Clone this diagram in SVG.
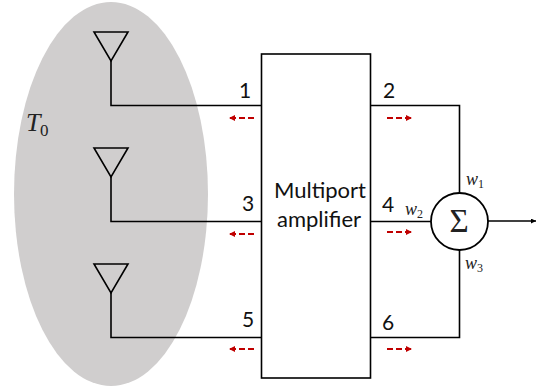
<svg xmlns="http://www.w3.org/2000/svg" width="545" height="389" viewBox="0 0 545 389">
<defs>
<marker id="ra" markerUnits="userSpaceOnUse" markerWidth="7" markerHeight="7" refX="6" refY="3" orient="auto"><path d="M0 0L6 3L0 6Z" fill="#c00000"/></marker>
<marker id="ka" markerUnits="userSpaceOnUse" markerWidth="6" markerHeight="6" refX="5" refY="2.5" orient="auto"><path d="M0 0L5 2.5L0 5Z" fill="#000"/></marker>
</defs>
<style>
.l{fill:none;stroke:#000;stroke-width:1.6}
.r{fill:none;stroke:#c00000;stroke-width:1.8;stroke-dasharray:6 3;marker-end:url(#ra)}
.t{font-family:"Lato","Open Sans",sans-serif;font-size:21px;fill:#111}
.a{font-size:22px}
.m{font-family:"Liberation Serif",serif;font-style:italic;fill:#222}
.w{font-size:18px}
.s{font-size:12px;font-style:normal}
</style>
<g id="region-T0">
<ellipse cx="111" cy="194" rx="97" ry="192" fill="#d0cece"/>
<text class="m" x="26" y="131" style="font-size:26px">T</text><text class="m" x="40" y="136" style="font-size:17px;font-style:normal">0</text>
</g>
<g id="amplifier">
<rect x="261.500" y="54" width="109" height="324" fill="#fff" stroke="#000" stroke-width="1.600"/>
<text class="t a" x="320" y="198" text-anchor="middle">Multiport</text>
<text class="t a" x="319" y="227" text-anchor="middle">amplifier</text>
</g>
<g id="antenna-1"><path class="l" d="M94 32H128L111 61Z"/></g>
<g id="antenna-2"><path class="l" d="M94 148H128L111 177Z"/></g>
<g id="antenna-3"><path class="l" d="M94 264H128L111 293Z"/></g>
<g id="summer">
<circle cx="459.500" cy="221.500" r="28.500" fill="#fff" stroke="#000" stroke-width="1.800"/>
<text x="459" y="232" text-anchor="middle" font-family="Liberation Serif,serif" font-size="33" fill="#222">Σ</text>
</g>
<g id="connectors">
<path class="l" d="M111 61V105.500H261"/>
<path class="l" d="M111 177V221.500H261"/>
<path class="l" d="M111 293V337.500H261"/>
<path class="l" d="M371 105.500H459.500V193"/>
<path class="l" d="M371 221.500H431"/>
<path class="l" d="M371 337.500H459.500V250"/>
<path class="l" d="M488 221H536" marker-end="url(#ka)"/>
<path class="r" d="M254 118H229"/>
<path class="r" d="M254 234H229"/>
<path class="r" d="M254 349H229"/>
<path class="r" d="M387 118H412"/>
<path class="r" d="M387 232H412"/>
<path class="r" d="M387 349H412"/>
</g>
<g id="labels">
<text class="t" x="245" y="98" text-anchor="middle">1</text>
<text class="t" x="248" y="211" text-anchor="middle">3</text>
<text class="t" x="248" y="327" text-anchor="middle">5</text>
<text class="t" x="389" y="98" text-anchor="middle">2</text>
<text class="t" x="388" y="212" text-anchor="middle">4</text>
<text class="t" x="388" y="330" text-anchor="middle">6</text>
<text class="m w" x="466" y="185">w<tspan class="s" dy="3">1</tspan></text>
<text class="m w" x="405" y="215">w<tspan class="s" dy="3">2</tspan></text>
<text class="m w" x="465" y="269">w<tspan class="s" dy="3">3</tspan></text>
</g>
</svg>
